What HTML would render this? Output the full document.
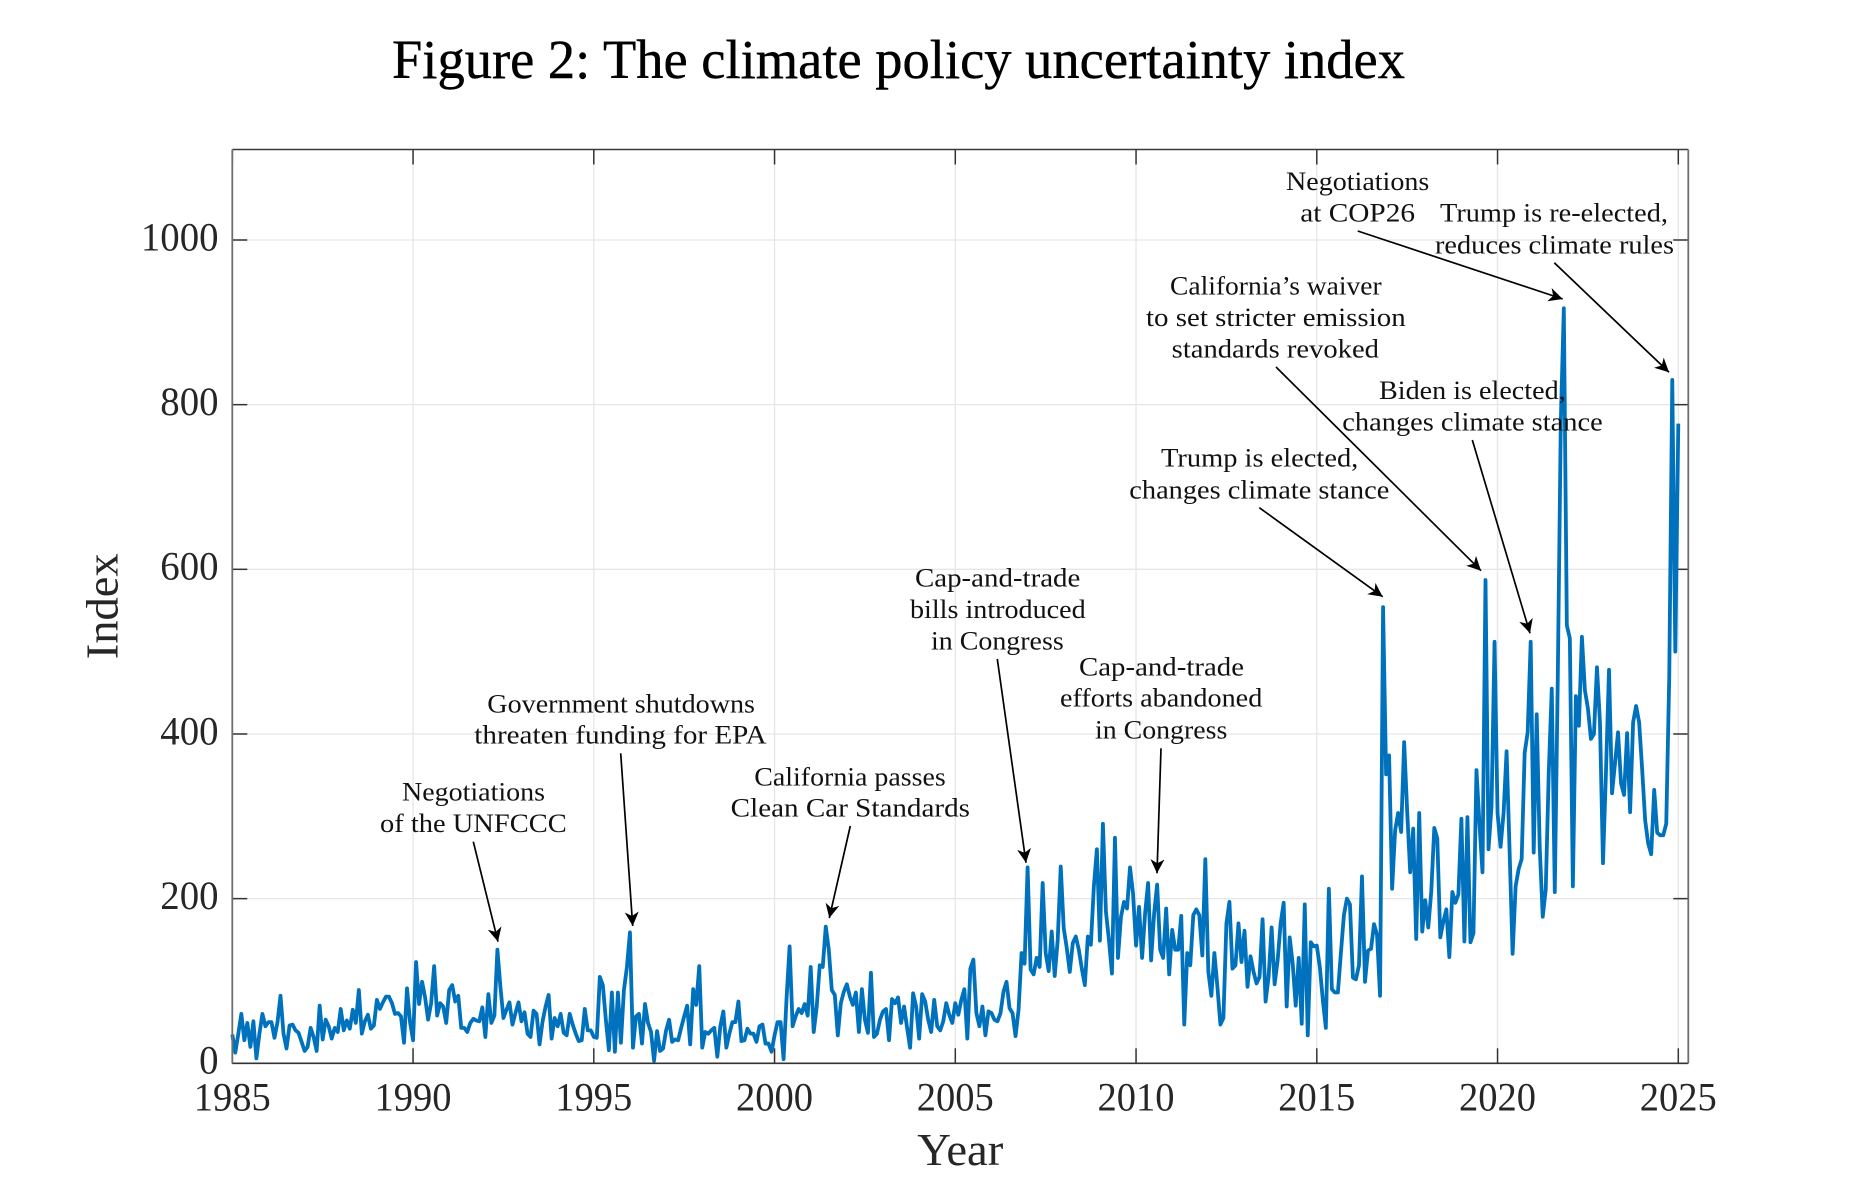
<!DOCTYPE html>
<html lang="en">
<head>
<meta charset="utf-8">
<title>Figure 2: The climate policy uncertainty index</title>
<style>
  html, body { margin: 0; padding: 0; background: #fff; }
  svg { display: block; }
  text { font-family: "Liberation Serif", serif; }
  .ann { font-size: 26px; fill: #111; }
  .tick { font-size: 40px; fill: #262626; }
  .axl { font-size: 46px; fill: #262626; }
  .arr { stroke: #000; stroke-width: 1.7; fill: none; }
</style>
</head>
<body>
<svg id="chart" xmlns="http://www.w3.org/2000/svg" width="1849" height="1193" viewBox="0 0 1849 1193">
  <defs>
    <marker id="head" markerUnits="userSpaceOnUse" markerWidth="20" markerHeight="20" refX="15" refY="10" orient="auto">
      <path d="M15,10 L1,3 L5,10 L1,17 Z" fill="#000"></path>
    </marker>
  </defs>
  <rect width="1849" height="1193" fill="#fff"></rect>
  <text x="392" y="78" font-size="55" fill="#000" stroke="#000" stroke-width="0.4" textLength="1013" lengthAdjust="spacingAndGlyphs">Figure 2: The climate policy uncertainty index</text>

  <g id="grid"></g>
  <g id="ticks"></g>
  <g id="series"></g>
  <g id="frame"></g>
  <g id="labels"></g>

  <text class="axl" x="917.3" y="1165" textLength="86" lengthAdjust="spacingAndGlyphs">Year</text>
  <text class="axl" transform="translate(117.3,659.3) rotate(-90)" textLength="106" lengthAdjust="spacingAndGlyphs">Index</text>

  <g>
    <line class="arr" x1="473.3" y1="841.7" x2="498" y2="941.7" marker-end="url(#head)"></line>
    <line class="arr" x1="620.7" y1="753.3" x2="632.7" y2="926" marker-end="url(#head)"></line>
    <line class="arr" x1="850.3" y1="826" x2="829.3" y2="918" marker-end="url(#head)"></line>
    <line class="arr" x1="997.3" y1="659" x2="1026" y2="862.7" marker-end="url(#head)"></line>
    <line class="arr" x1="1161" y1="748.3" x2="1157" y2="873.3" marker-end="url(#head)"></line>
    <line class="arr" x1="1259.3" y1="507.7" x2="1382.7" y2="596.7" marker-end="url(#head)"></line>
    <line class="arr" x1="1276" y1="367" x2="1481" y2="570.7" marker-end="url(#head)"></line>
    <line class="arr" x1="1472.3" y1="440" x2="1530" y2="633.3" marker-end="url(#head)"></line>
    <line class="arr" x1="1357.7" y1="231" x2="1562.7" y2="299" marker-end="url(#head)"></line>
    <line class="arr" x1="1554.3" y1="262.7" x2="1669" y2="372.3" marker-end="url(#head)"></line>
  </g>

  <g>
    <text class="ann" x="1286" y="190" textLength="143.3" lengthAdjust="spacingAndGlyphs">Negotiations</text>
    <text class="ann" x="1300.3" y="221.7" textLength="114.7" lengthAdjust="spacingAndGlyphs">at COP26</text>
    <text class="ann" x="1440" y="221.7" textLength="228" lengthAdjust="spacingAndGlyphs">Trump is re-elected,</text>
    <text class="ann" x="1435" y="253.3" textLength="239" lengthAdjust="spacingAndGlyphs">reduces climate rules</text>
    <text class="ann" x="1170" y="294.3" textLength="211.7" lengthAdjust="spacingAndGlyphs">California’s waiver</text>
    <text class="ann" x="1146" y="326" textLength="259.7" lengthAdjust="spacingAndGlyphs">to set stricter emission</text>
    <text class="ann" x="1171.7" y="357.3" textLength="207.3" lengthAdjust="spacingAndGlyphs">standards revoked</text>
    <text class="ann" x="1379" y="399" textLength="186.7" lengthAdjust="spacingAndGlyphs">Biden is elected,</text>
    <text class="ann" x="1342.3" y="430.7" textLength="260.4" lengthAdjust="spacingAndGlyphs">changes climate stance</text>
    <text class="ann" x="1161" y="466.7" textLength="197.3" lengthAdjust="spacingAndGlyphs">Trump is elected,</text>
    <text class="ann" x="1129.3" y="498.3" textLength="260" lengthAdjust="spacingAndGlyphs">changes climate stance</text>
    <text class="ann" x="915" y="586.7" textLength="165.3" lengthAdjust="spacingAndGlyphs">Cap-and-trade</text>
    <text class="ann" x="910" y="618" textLength="175.7" lengthAdjust="spacingAndGlyphs">bills introduced</text>
    <text class="ann" x="931" y="649.3" textLength="132.7" lengthAdjust="spacingAndGlyphs">in Congress</text>
    <text class="ann" x="1079" y="675.3" textLength="165" lengthAdjust="spacingAndGlyphs">Cap-and-trade</text>
    <text class="ann" x="1060" y="706.7" textLength="202.3" lengthAdjust="spacingAndGlyphs">efforts abandoned</text>
    <text class="ann" x="1095" y="738.3" textLength="132.3" lengthAdjust="spacingAndGlyphs">in Congress</text>
    <text class="ann" x="487.3" y="712.3" textLength="267.7" lengthAdjust="spacingAndGlyphs">Government shutdowns</text>
    <text class="ann" x="474.3" y="743.3" textLength="292.4" lengthAdjust="spacingAndGlyphs">threaten funding for EPA</text>
    <text class="ann" x="754.3" y="785.3" textLength="191.4" lengthAdjust="spacingAndGlyphs">California passes</text>
    <text class="ann" x="730.7" y="816.7" textLength="239.3" lengthAdjust="spacingAndGlyphs">Clean Car Standards</text>
    <text class="ann" x="402" y="800.7" textLength="143" lengthAdjust="spacingAndGlyphs">Negotiations</text>
    <text class="ann" x="380" y="832" textLength="186.7" lengthAdjust="spacingAndGlyphs">of the UNFCCC</text>
  </g>
</svg>
<script>
// Monthly index values, first point January 1985.
const startYear = 1985;
const values1985to1994 = [
  35,13,36,60,28,49,20,51,6,36,60,45,
  50,50,31,50,82,36,18,46,47,40,37,26,
  15,20,43,32,15,70,29,53,45,30,43,38,
  66,40,52,42,65,49,89,36,51,59,42,46,
  77,66,74,81,81,73,60,61,57,25,91,50,
  28,123,72,99,80,53,73,118,58,73,69,49,
  89,95,75,82,43,43,38,49,54,52,51,68,
  32,84,49,58,138,93,55,65,74,47,61,74,
  51,62,36,32,64,60,23,51,69,83,30,55,
  45,60,37,34,60,47,36,27,28,66,40,40
];
const values1995to2004 = [
  32,31,105,95,53,16,86,14,86,25,89,117,
  159,19,57,60,24,72,49,38,3,39,15,18,
  40,53,26,29,28,43,57,70,23,90,71,118,
  19,38,36,40,43,8,45,63,19,36,50,50,
  75,27,28,42,36,36,26,45,47,24,24,14,
  34,50,50,5,80,142,45,57,66,61,72,58,
  117,38,69,119,117,166,138,89,83,34,73,87,
  96,81,71,86,38,90,53,37,110,32,36,53,
  63,66,28,78,73,80,49,69,43,19,85,69,
  30,84,75,53,38,77,45,40,51,73,59,49
];
const values2005to2014 = [
  73,59,77,90,30,115,126,61,45,69,34,63,
  61,53,51,61,87,99,67,61,33,65,134,121,
  238,114,108,128,117,219,134,112,160,106,150,239,
  164,140,111,146,154,138,115,95,154,144,215,260,
  149,291,184,150,109,274,128,178,196,188,238,206,
  143,190,128,182,219,125,182,217,138,128,188,108,
  162,138,138,179,47,134,119,180,187,180,131,248,
  111,82,134,93,47,55,170,196,115,119,170,123,
  161,93,130,111,97,105,175,75,105,165,96,125,
  170,195,69,153,121,70,128,48,193,34,147,142
];
const values2015to2025 = [
  143,117,77,43,212,90,86,86,134,180,200,193,
  104,102,119,227,99,137,139,169,156,82,554,351,
  374,212,283,304,281,390,306,232,285,151,304,160,
  198,165,209,286,273,153,172,187,129,208,195,205,
  297,148,299,147,158,356,291,232,587,260,312,512,
  304,263,304,379,258,133,215,236,248,377,402,512,
  256,424,262,178,211,353,455,208,470,780,917,532,
  516,215,446,410,518,453,431,394,400,481,414,243,
  355,478,328,365,402,340,326,401,305,414,434,414,
  357,295,267,254,332,280,277,277,291,470,830,500,
  777
];
const xTickLabels = ["1985","1990","1995","2000","2005","2010","2015","2020","2025"];
const yTickLabels = ["0","200","400","600","800","1000"];

const SVG_NS = "http://www.w3.org/2000/svg";
const plotLeft = 232.3, plotRight = 1688.3, plotTop = 149.5, plotBottom = 1063.3;
const pxPerYear = 36.15, pxPerUnit = 0.8233;
const xScale = function (year) { return plotLeft + pxPerYear * (year - startYear); };
const yScale = function (v) { return plotBottom - pxPerUnit * v; };

function make(tag, parentId, attrs, content) {
  const el = document.createElementNS(SVG_NS, tag);
  Object.keys(attrs).forEach(function (k) { el.setAttribute(k, attrs[k]); });
  if (content !== undefined) el.textContent = content;
  document.getElementById(parentId).appendChild(el);
  return el;
}

const gridStyle = { stroke: "#e6e6e6", "stroke-width": 1.3 };
const tickStyle = { stroke: "#333", "stroke-width": 1.5 };

xTickLabels.forEach(function (label) {
  const x = xScale(Number(label));
  const grid = make("line", "grid", Object.assign({ x1: x, x2: x, y1: plotTop, y2: plotBottom }, gridStyle));
  
  
  const tickB = make("line", "ticks", Object.assign({ x1: x, x2: x, y1: plotBottom, y2: plotBottom - 15 }, tickStyle));
  
  
  const tickT = make("line", "ticks", Object.assign({ x1: x, x2: x, y1: plotTop, y2: plotTop + 15 }, tickStyle));
  
  
  const text = make("text", "labels", { class: "tick", x: x, y: 1110.7, "text-anchor": "middle", textLength: 77, lengthAdjust: "spacingAndGlyphs" }, label);
  
  
});

yTickLabels.forEach(function (label) {
  const y = yScale(Number(label));
  const grid = make("line", "grid", Object.assign({ x1: plotLeft, x2: plotRight, y1: y, y2: y }, gridStyle));
  
  
  const tickL = make("line", "ticks", Object.assign({ x1: plotLeft, x2: plotLeft + 15, y1: y, y2: y }, tickStyle));
  
  
  const tickR = make("line", "ticks", Object.assign({ x1: plotRight, x2: plotRight - 15, y1: y, y2: y }, tickStyle));
  
  
  const text = make("text", "labels", { class: "tick", x: 218.5, y: y + 10.3, "text-anchor": "end", textLength: 19.4 * label.length, lengthAdjust: "spacingAndGlyphs" }, label);
  
  
});

const allValues = values1985to1994.concat(values1995to2004, values2005to2014, values2015to2025);
const pathData = allValues.map(function (v, i) {
  const year = startYear + i / 12;
  return (i ? "L" : "M") + xScale(year).toFixed(2) + "," + yScale(v).toFixed(2);
}).join(" ");
const seriesLine = make("path", "series", { d: pathData, fill: "none", stroke: "#0072BD", "stroke-width": 3.8, "stroke-linejoin": "round", "stroke-linecap": "butt" });



const sides = [
  ["frame-top", plotLeft, plotTop, plotRight, plotTop, "#3a3a3a", 1.5],
  ["frame-bottom", plotLeft, plotBottom, plotRight, plotBottom, "#333", 1.6],
  ["frame-left", plotLeft, plotTop, plotLeft, plotBottom, "#6e6e6e", 1.8],
  ["frame-right", plotRight, plotTop, plotRight, plotBottom, "#6e6e6e", 1.8]
];
sides.forEach(function (s) {
  const side = make("line", "frame", { x1: s[1], y1: s[2], x2: s[3], y2: s[4], stroke: s[5], "stroke-width": s[6] });
  
  
});
</script>
</body>
</html>
